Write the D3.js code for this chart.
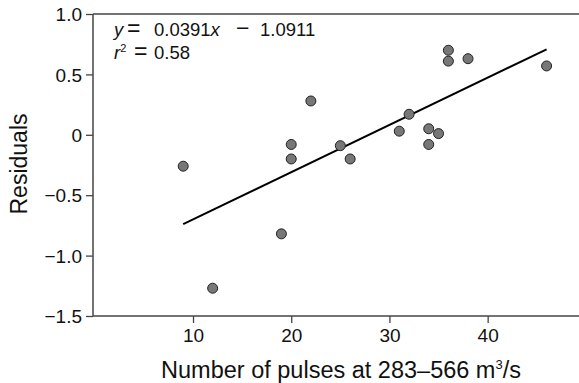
<!DOCTYPE html>
<html><head><meta charset="utf-8">
<script src="https://cdn.jsdelivr.net/npm/d3@7"></script>
<style>body{margin:0;background:#fff}svg{display:block}text{font-family:"Liberation Sans",Arial,sans-serif;fill:#111}</style>
</head><body><svg id="c" width="579" height="383"></svg>
<script>
const pulses =    [9, 12, 19, 20, 20, 22, 25, 26, 31, 32, 34, 34, 35, 36, 36, 38, 46];
const residuals = [-0.26, -1.27, -0.82, -0.08, -0.20, 0.28, -0.09, -0.20, 0.03, 0.17, 0.05, -0.08, 0.01, 0.70, 0.61, 0.63, 0.57];
const slope = 0.0391, intercept = -1.0911;
const fitRange = [9, 46];
const xTicks = [10, 20, 30, 40];
const yTicks = [1.0, 0.5, 0, -0.5, -1.0, -1.5];
const yTickLabels = ["1.0", "0.5", "0", "\u22120.5", "\u22121.0", "\u22121.5"];

const svg = d3.select("#c");
const x = d3.scaleLinear().domain([0, 49.3]).range([94.8, 579]);
const y = d3.scaleLinear().domain([-1.5, 1.0]).range([316, 14]);
const axisColor = "#444";

svg.append("line").attr("x1", 93).attr("x2", 579).attr("y1", 14).attr("y2", 14).attr("stroke", axisColor).attr("stroke-width", 1.5);

const gx = svg.append("g").attr("transform", "translate(0,316)")
  .call(d3.axisBottom(x).tickValues(xTicks).tickSize(7).tickPadding(5).tickSizeOuter(0));
gx.select(".domain").remove();
gx.append("line").attr("x1", 93).attr("x2", 579).attr("stroke", axisColor).attr("stroke-width", 1.5);

const gy = svg.append("g").attr("transform", "translate(93,0)")
  .call(d3.axisLeft(y).tickValues(yTicks).tickFormat((d, i) => yTickLabels[i]).tickSize(7).tickPadding(4).tickSizeOuter(0));
gy.select(".domain").remove();
gy.append("line").attr("y1", 14).attr("y2", 316).attr("stroke", axisColor).attr("stroke-width", 1.5);

[gx, gy].forEach(g => {
  g.attr("font-size", 19).attr("font-family", "'Liberation Sans', Arial, sans-serif");
  g.selectAll(".tick line").attr("stroke", axisColor).attr("stroke-width", 1.3);
  g.selectAll(".tick text").attr("fill", "#111");
});
gy.selectAll(".tick text").attr("dy", "0.35em");
gx.selectAll(".tick text").attr("dy", "0.72em");

svg.append("line")
  .attr("x1", x(fitRange[0])).attr("y1", y(slope * fitRange[0] + intercept))
  .attr("x2", x(fitRange[1])).attr("y2", y(slope * fitRange[1] + intercept))
  .attr("stroke", "#000").attr("stroke-width", 2);

svg.append("g").selectAll("circle").data(pulses).join("circle")
  .attr("cx", d => x(d)).attr("cy", (d, i) => y(residuals[i])).attr("r", 5)
  .attr("fill", "#777").attr("stroke", "#222").attr("stroke-width", 1);

// equation
const eq = svg.append("text").attr("y", 36).style("font-size", "18.5px");
eq.append("tspan").attr("x", 114).style("font-style", "italic").text("y");
eq.append("tspan").attr("x", 127).style("font-size", "23px").text("=");
eq.append("tspan").attr("x", 154).text("0.0391");
eq.append("tspan").style("font-style", "italic").text("x");
eq.append("tspan").attr("x", 236).style("font-size", "23px").text("\u2212");
eq.append("tspan").attr("x", 260).text("1.0911");
const r2 = svg.append("text").attr("y", 59).style("font-size", "18.5px");
r2.append("tspan").attr("x", 114).style("font-style", "italic").text("r");
r2.append("tspan").attr("dy", -7).style("font-size", "11px").text("2");
r2.append("tspan").attr("x", 134).attr("dy", 7).style("font-size", "23px").text("=");
r2.append("tspan").attr("x", 154).text("0.58");

// axis titles
const xt = svg.append("text").attr("x", 341).attr("y", 378).attr("text-anchor", "middle").style("font-size", "23.5px");
xt.append("tspan").text("Number of pulses at 283\u2013566 m");
xt.append("tspan").attr("dy", -9).style("font-size", "13px").text("3");
xt.append("tspan").attr("dy", 9).text("/s");

svg.append("text").attr("transform", "translate(27,164) rotate(-90)").attr("text-anchor", "middle")
  .style("font-size", "23px").text("Residuals");
</script></body></html>
